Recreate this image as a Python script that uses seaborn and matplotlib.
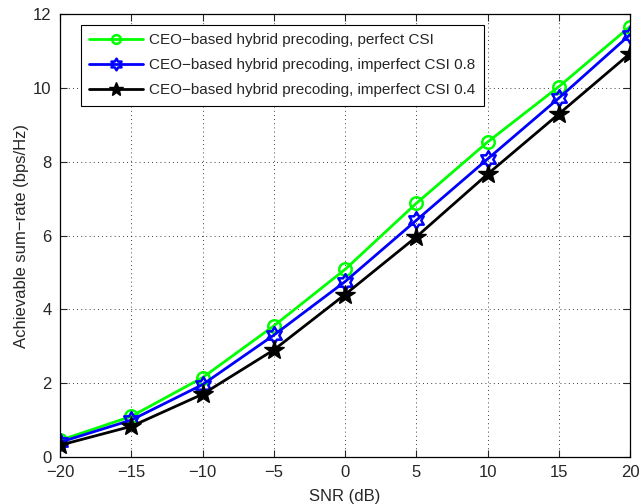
import numpy as np
import pandas as pd
import matplotlib
matplotlib.use("Agg")
import matplotlib.pyplot as plt
import seaborn as sns
from matplotlib.path import Path

snr = [-20, -15, -10, -5, 0, 5, 10, 15, 20]
perfect = [0.45, 1.10, 2.15, 3.55, 5.08, 6.87, 8.53, 10.03, 11.66]
imperfect08 = [0.40, 1.00, 1.96, 3.30, 4.75, 6.41, 8.07, 9.72, 11.44]
imperfect04 = [0.32, 0.83, 1.70, 2.90, 4.40, 5.96, 7.66, 9.29, 10.93]
labels = ["CEO\u2212based hybrid precoding, perfect CSI",
          "CEO\u2212based hybrid precoding, imperfect CSI 0.8",
          "CEO\u2212based hybrid precoding, imperfect CSI 0.4"]
xticks = [-20, -15, -10, -5, 0, 5, 10, 15, 20]
yticks = [0, 2, 4, 6, 8, 10, 12]

sns.set_style("ticks")
plt.rcParams['font.family'] = ['Liberation Sans', 'DejaVu Sans']
plt.rcParams['axes.unicode_minus'] = True

# hexagram marker (MATLAB 'h')
ang_o = np.deg2rad(np.arange(6) * 60 + 90)
ang_i = ang_o + np.deg2rad(30)
ro, ri = 1.0, 1.0 / np.sqrt(3)
verts = []
for a, b in zip(ang_o, ang_i):
    verts.append((ro * np.cos(a), ro * np.sin(a)))
    verts.append((ri * np.cos(b), ri * np.sin(b)))
verts.append(verts[0])
codes = [Path.MOVETO] + [Path.LINETO] * 11 + [Path.CLOSEPOLY]
hexagram = Path(verts, codes)

df = pd.DataFrame({
    "snr": snr * 3,
    "rate": perfect + imperfect08 + imperfect04,
    "series": [labels[0]] * 9 + [labels[1]] * 9 + [labels[2]] * 9,
})

fig = plt.figure(figsize=(6.43, 5.04), dpi=100)
ax = fig.add_axes([60 / 643, 1 - 457 / 504, 570 / 643, 443 / 504])

styles = [
    dict(color="#00ff00", marker="o", mfc="none", ms=9, mew=1.8),
    dict(color="#0000ff", marker=hexagram, mfc="none", ms=12, mew=1.8),
    dict(color="#000000", marker="*", mfc="#000000", ms=15, mew=1.0),
]
for lab, st in zip(labels, styles):
    sub = df[df.series == lab]
    sns.lineplot(data=sub, x="snr", y="rate", ax=ax, color=st["color"], lw=2,
                 label=lab, marker=st["marker"], markersize=st["ms"],
                 markerfacecolor=st["mfc"], markeredgecolor=st["color"],
                 markeredgewidth=st["mew"])

ax.set_xlim(-20, 20)
ax.set_ylim(0, 12)
ax.set_xticks(xticks)
ax.set_yticks(yticks)
ax.set_xticklabels([f"{t}".replace("-", "\u2212") for t in xticks], fontsize=12)
ax.set_yticklabels([str(t) for t in yticks], fontsize=12)
ax.set_xlabel("SNR (dB)", fontsize=12, labelpad=6)
ax.set_ylabel("Achievable sum\u2212rate (bps/Hz)", fontsize=12, labelpad=3)
ax.grid(True, color="black", linestyle=(0, (1, 4)), linewidth=0.6)
ax.tick_params(direction="in", top=True, right=True, length=5, width=0.8, pad=6)
for s in ax.spines.values():
    s.set_visible(True)
    s.set_linewidth(0.9)
    s.set_color("black")

leg = ax.legend(loc="upper left", bbox_to_anchor=(21 / 570, 1 - 11 / 443),
                borderaxespad=0, fontsize=11, frameon=True, fancybox=False,
                edgecolor="black", framealpha=1, handlelength=3.5,
                borderpad=0.55, labelspacing=0.72, handletextpad=0.4,
                markerscale=0.7)
leg.get_frame().set_linewidth(0.8)

fig.savefig("out.png", dpi=100)
